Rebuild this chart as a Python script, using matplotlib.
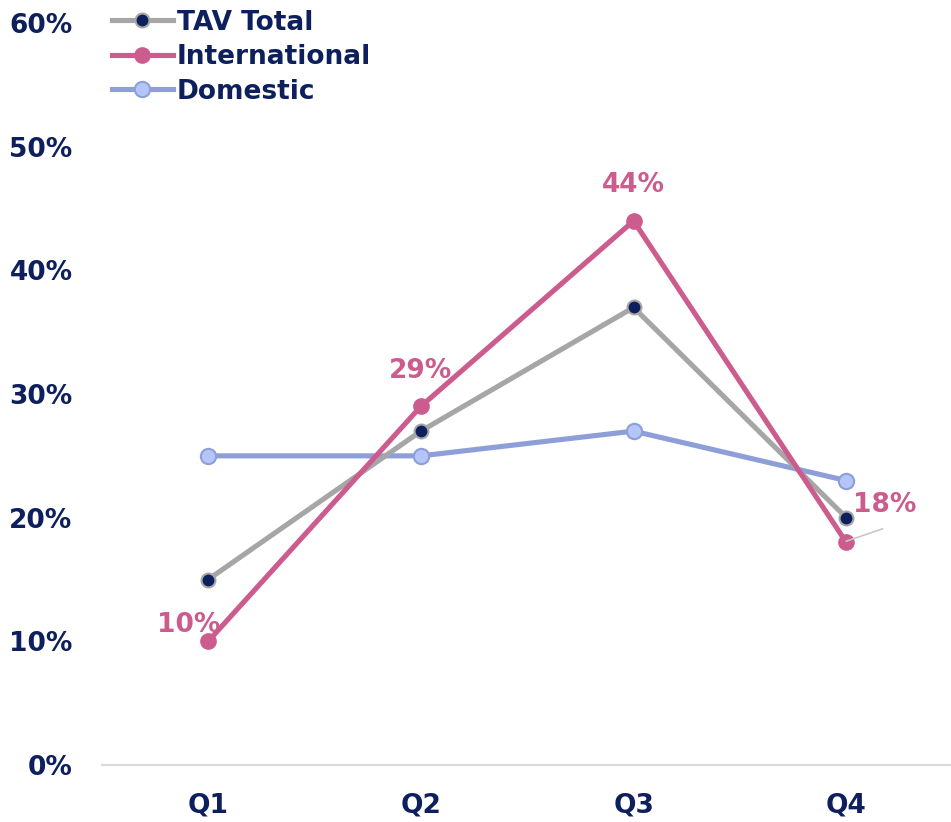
import matplotlib.pyplot as plt

# data
quarters = ["Q1", "Q2", "Q3", "Q4"]
tav_total = [15, 27, 37, 20]
international = [10, 29, 44, 18]
domestic = [25, 25, 27, 23]
y_ticks = [0, 10, 20, 30, 40, 50, 60]

NAVY = "#0D1F5C"
GRAY = "#A6A6A6"
PINK = "#CC5C8E"
BLUE_LINE = "#8E9ED8"
BLUE_FILL = "#B4C6F8"

plt.rcParams["font.family"] = ["DejaVu Sans"]
plt.rcParams["font.weight"] = "bold"

fig = plt.figure(figsize=(9.51, 8.22), dpi=100)
ax = fig.add_axes([0.107, 0.0693, 0.897, 0.9027])

x = list(range(len(quarters)))

ax.plot(x, tav_total, color=GRAY, lw=3.7, marker="o", ms=10,
        mfc=NAVY, mec=GRAY, mew=1.5, label="TAV Total", zorder=3)
ax.plot(x, international, color=PINK, lw=3.7, marker="o", ms=11,
        mfc=PINK, mec=PINK, label="International", zorder=4)
ax.plot(x, domestic, color=BLUE_LINE, lw=3.7, marker="o", ms=11,
        mfc=BLUE_FILL, mec=BLUE_LINE, mew=1.5, label="Domestic", zorder=2)

# data labels for international
lab_off = [(-0.09, 1.3), (0, 2.9), (0, 2.9), (0.18, 3.0)]
for i, v in enumerate(international):
    dx, dy = lab_off[i]
    ax.text(x[i] + dx, v + dy, f"{v}%", color=PINK, fontsize=19,
            fontweight="bold", ha="center", va="center", zorder=5)
# leader line for Q4
ax.plot([3.0, 3.17], [international[3] + 0.1, international[3] + 1.1],
        color="#C8C8C8", lw=1.2, zorder=5)

ax.set_xlim(-0.5, 3.51)
ax.set_ylim(0, 60)
ax.set_xticks(x)
ax.set_xticklabels(quarters)
ax.set_yticks(y_ticks)
ax.set_yticklabels([f"{t}%" for t in y_ticks])
ax.tick_params(axis="both", length=0, labelsize=19, colors=NAVY)
ax.tick_params(axis="x", pad=20)
ax.tick_params(axis="y", pad=21)

for s in ["top", "right", "left"]:
    ax.spines[s].set_visible(False)
ax.spines["bottom"].set_color("#D9D9D9")
ax.spines["bottom"].set_linewidth(1.5)

leg = ax.legend(loc="upper left", bbox_to_anchor=(0.012, 1.018), frameon=False,
                fontsize=19, handlelength=2.3, handletextpad=0.15,
                labelspacing=0.32, borderaxespad=0, borderpad=0)
for t in leg.get_texts():
    t.set_color(NAVY)
    t.set_fontweight("bold")

fig.savefig("out.png", dpi=100)
